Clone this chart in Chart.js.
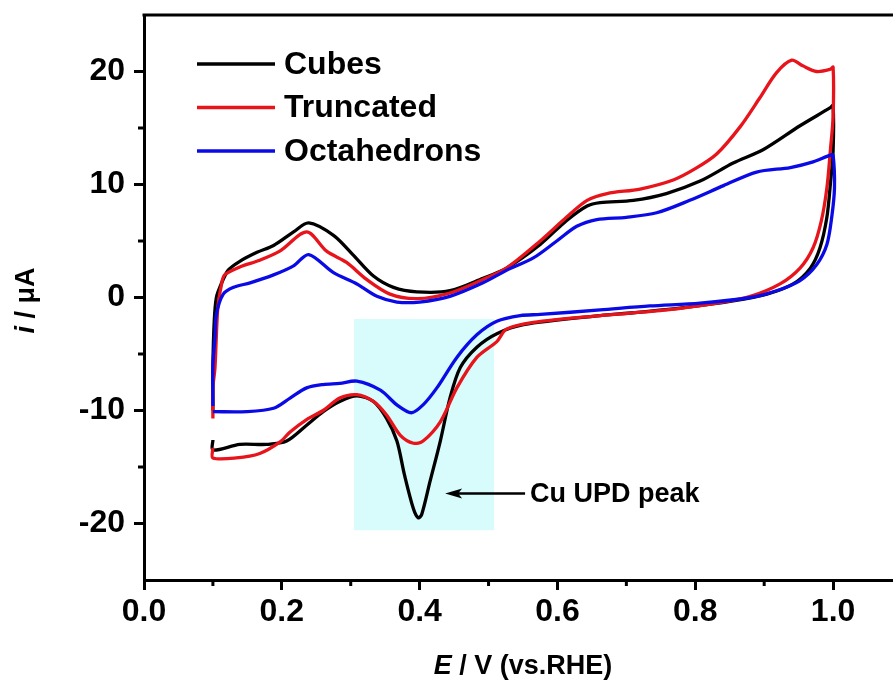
<!DOCTYPE html>
<html>
<head>
<meta charset="utf-8">
<script src="https://cdn.jsdelivr.net/npm/chart.js@4.4.1/dist/chart.umd.min.js"></script>
<style>
  html, body { margin: 0; padding: 0; background: #fff; overflow: hidden; }
  #wrap { width: 910px; height: 686px; }
</style>
</head>
<body>
<div id="wrap"><canvas id="cv"></canvas></div>
<script>
// axis ticks
const xTicks = [0, 0.2, 0.4, 0.6, 0.8, 1.0];
const xMinorTicks = [0.1, 0.3, 0.5, 0.7, 0.9];
const yTicks = [-20, -10, 0, 10, 20];
const yMinorTicks = [-15, -5, 5, 15];

const seriesNames = ['Cubes', 'Truncated', 'Octahedrons'];

// CV loops: anodic sweep 0.1 -> 1.0 V, then cathodic sweep back to 0.1 V
const cubesE = [0.100, 0.100, 0.102, 0.105, 0.110, 0.122, 0.139, 0.164, 0.188, 0.217, 0.239, 0.275, 0.303, 0.333, 0.362, 0.396, 0.444, 0.492, 0.526, 0.575, 0.613, 0.643, 0.662, 0.710, 0.758, 0.807, 0.855, 0.899, 0.952, 0.996, 1.000,
  1.000, 0.996, 0.991, 0.981, 0.967, 0.942, 0.904, 0.855, 0.783, 0.710, 0.662, 0.551, 0.512, 0.483, 0.459, 0.444, 0.430, 0.415, 0.403, 0.398, 0.391, 0.378, 0.367, 0.352, 0.333, 0.309, 0.284, 0.260, 0.236, 0.207, 0.178, 0.139, 0.100, 0.100];
const cubesI = [-10.0, -6.0, -2.0, 0.0, 0.9, 2.4, 3.2, 4.0, 4.6, 5.8, 6.6, 5.5, 3.8, 1.9, 0.9, 0.5, 0.6, 1.7, 2.6, 4.7, 6.8, 8.1, 8.4, 8.6, 9.2, 10.3, 11.9, 13.1, 15.2, 16.8, 17.0,
  13.0, 10.0, 7.1, 4.4, 2.6, 1.2, 0.3, -0.3, -0.9, -1.35, -1.6, -2.4, -3.2, -4.4, -6.2, -8.9, -12.7, -16.3, -19.2, -19.5, -18.7, -15.7, -12.7, -10.7, -9.2, -8.7, -9.2, -10.1, -11.3, -12.7, -13.0, -13.0, -13.5, -12.6];

const truncE = [0.100, 0.100, 0.103, 0.107, 0.112, 0.117, 0.139, 0.168, 0.197, 0.236, 0.265, 0.294, 0.323, 0.357, 0.396, 0.444, 0.492, 0.526, 0.575, 0.613, 0.643, 0.672, 0.720, 0.768, 0.800, 0.831, 0.865, 0.894, 0.918, 0.940, 0.956, 0.976, 0.996, 1.000,
  1.000, 0.996, 0.991, 0.983, 0.971, 0.952, 0.923, 0.880, 0.831, 0.759, 0.662, 0.565, 0.526, 0.512, 0.483, 0.454, 0.430, 0.405, 0.391, 0.372, 0.352, 0.333, 0.309, 0.284, 0.260, 0.236, 0.212, 0.197, 0.168, 0.134, 0.100, 0.100];
const truncI = [-10.7, -8.0, -6.2, -1.0, 1.0, 2.0, 2.7, 3.3, 4.1, 5.8, 4.1, 3.1, 1.6, 0.3, -0.1, 0.4, 1.6, 2.6, 5.0, 7.1, 8.6, 9.2, 9.6, 10.4, 11.4, 12.7, 15.1, 17.7, 19.9, 21.0, 20.5, 20.0, 20.2, 20.4,
  16.0, 13.0, 9.7, 6.8, 4.4, 2.6, 1.2, 0.1, -0.5, -1.1, -1.6, -2.2, -2.8, -3.9, -5.3, -8.0, -11.0, -12.7, -12.9, -12.2, -10.4, -9.2, -8.6, -8.9, -10.0, -10.8, -11.9, -12.8, -13.8, -14.2, -14.2, -13.3];

const octaE = [0.100, 0.100, 0.103, 0.105, 0.115, 0.130, 0.154, 0.188, 0.217, 0.239, 0.275, 0.309, 0.338, 0.367, 0.400, 0.444, 0.492, 0.526, 0.565, 0.599, 0.628, 0.657, 0.700, 0.744, 0.792, 0.841, 0.889, 0.938, 0.971, 0.996, 1.000,
  1.002, 0.998, 0.991, 0.976, 0.952, 0.918, 0.880, 0.807, 0.734, 0.662, 0.575, 0.546, 0.512, 0.483, 0.454, 0.425, 0.405, 0.388, 0.367, 0.343, 0.309, 0.284, 0.260, 0.236, 0.212, 0.188, 0.149, 0.100];
const octaI = [-9.6, -6.0, -3.5, -1.5, 0.3, 0.9, 1.3, 2.0, 2.8, 3.8, 2.2, 1.2, 0.1, -0.4, -0.4, 0.1, 1.3, 2.4, 3.5, 5.0, 6.3, 6.9, 7.1, 7.5, 8.6, 9.9, 11.1, 11.5, 12.0, 12.6, 12.6,
  9.7, 7.1, 4.7, 2.9, 1.5, 0.6, 0.0, -0.5, -0.75, -1.1, -1.5, -1.6, -2.1, -3.3, -5.3, -8.0, -9.5, -10.2, -9.5, -8.2, -7.4, -7.6, -7.7, -8.0, -8.9, -9.8, -10.1, -10.1];

// shaded Cu UPD region and its label
const updBoxE = [0.305, 0.508];
const updBoxI = [-1.9, -20.6];
const updArrowE = [0.553, 0.437];
const updArrowI = -17.35;
const updLabel = 'Cu UPD peak';

const FONT = "'Liberation Sans', Arial, sans-serif";

function toPoints(xs, ys) {
  return xs.map((x, i) => ({ x: x, y: ys[i] }));
}

function drawRich(ctx, parts, cx, cy) {
  let total = 0;
  parts.forEach(p => { ctx.font = p.font; total += ctx.measureText(p.text).width; });
  let x = cx - total / 2;
  ctx.textAlign = 'left';
  ctx.textBaseline = 'middle';
  parts.forEach(p => {
    ctx.font = p.font;
    ctx.fillText(p.text, x, cy);
    x += ctx.measureText(p.text).width;
  });
}

const decorPlugin = {
  id: 'decor',
  beforeDatasetsDraw(chart) {
    const { ctx, scales: { x, y } } = chart;
    const x0 = x.getPixelForValue(updBoxE[0]), x1 = x.getPixelForValue(updBoxE[1]);
    const y0 = y.getPixelForValue(updBoxI[0]), y1 = y.getPixelForValue(updBoxI[1]);
    ctx.save();
    ctx.fillStyle = '#d8fbfb';
    ctx.fillRect(x0, y0, x1 - x0, y1 - y0);
    ctx.restore();
  },
  afterDraw(chart) {
    const { ctx, chartArea: a, scales: { x, y } } = chart;
    ctx.save();
    ctx.strokeStyle = '#000';
    ctx.fillStyle = '#000';

    // top frame line
    ctx.lineWidth = 3;
    ctx.beginPath();
    ctx.moveTo(a.left - 1.5, a.top);
    ctx.lineTo(chart.width, a.top);
    ctx.stroke();

    // minor ticks
    ctx.lineWidth = 3;
    xMinorTicks.forEach(v => {
      const px = x.getPixelForValue(v);
      ctx.beginPath();
      ctx.moveTo(px, a.bottom);
      ctx.lineTo(px, a.bottom + 6);
      ctx.stroke();
    });
    yMinorTicks.forEach(v => {
      const py = y.getPixelForValue(v);
      ctx.beginPath();
      ctx.moveTo(a.left, py);
      ctx.lineTo(a.left - 6, py);
      ctx.stroke();
    });

    // legend
    chart.data.datasets.forEach((ds, i) => {
      const ly = 64 + i * 43.5;
      ctx.strokeStyle = ds.borderColor;
      ctx.lineWidth = 3.5;
      ctx.beginPath();
      ctx.moveTo(197, ly);
      ctx.lineTo(275, ly);
      ctx.stroke();
      ctx.fillStyle = '#000';
      ctx.font = 'bold 32px ' + FONT;
      ctx.textAlign = 'left';
      ctx.textBaseline = 'middle';
      ctx.fillText(ds.label, 284, ly + 1);
    });

    // annotation arrow + label
    const ay = y.getPixelForValue(updArrowI);
    const tail = x.getPixelForValue(updArrowE[0]);
    const tip = x.getPixelForValue(updArrowE[1]);
    ctx.strokeStyle = '#000';
    ctx.lineWidth = 2.5;
    ctx.beginPath();
    ctx.moveTo(tail, ay);
    ctx.lineTo(tip + 10, ay);
    ctx.stroke();
    ctx.beginPath();
    ctx.moveTo(tip, ay);
    ctx.lineTo(tip + 17, ay - 5);
    ctx.lineTo(tip + 13, ay);
    ctx.lineTo(tip + 17, ay + 5);
    ctx.closePath();
    ctx.fill();
    ctx.font = 'bold 27px ' + FONT;
    ctx.textAlign = 'left';
    ctx.textBaseline = 'middle';
    ctx.fillText(updLabel, tail + 5, ay + 1);

    // axis titles
    drawRich(ctx, [
      { text: 'E', font: 'italic bold 27px ' + FONT },
      { text: ' / V (vs.RHE)', font: 'bold 27px ' + FONT }
    ], (a.left + a.right) / 2, 667);

    ctx.translate(27, (a.top + a.bottom) / 2 + 3);
    ctx.rotate(-Math.PI / 2);
    drawRich(ctx, [
      { text: 'i', font: 'italic bold 27px ' + FONT },
      { text: ' / \u03bcA', font: 'bold 27px ' + FONT }
    ], 0, 0);
    ctx.restore();
  }
};

const tickFont = { family: FONT, size: 32, weight: 'bold' };

new Chart(document.getElementById('cv'), {
  type: 'scatter',
  data: {
    datasets: [
      { label: seriesNames[0], data: toPoints(cubesE, cubesI), borderColor: '#000000', order: 2 },
      { label: seriesNames[1], data: toPoints(truncE, truncI), borderColor: '#e8141b', order: 1 },
      { label: seriesNames[2], data: toPoints(octaE, octaI), borderColor: '#0a0ae6', order: 0 }
    ].map(ds => Object.assign(ds, { showLine: true, borderWidth: 3.3, pointRadius: 0, tension: 0.3, fill: false }))
  },
  options: {
    responsive: true,
    maintainAspectRatio: false,
    animation: false,
    layout: { padding: { left: 0, top: 15, right: 8, bottom: 0 } },
    plugins: { legend: { display: false }, tooltip: { enabled: false } },
    scales: {
      x: {
        type: 'linear', min: 0, max: 1.1,
        border: { display: true, width: 3, color: '#000' },
        grid: { drawOnChartArea: false, tickLength: 10, tickWidth: 3, tickColor: '#000' },
        ticks: { color: '#000', font: tickFont, padding: 3, maxRotation: 0, callback: v => v.toFixed(1) },
        afterBuildTicks: s => { s.ticks = xTicks.map(v => ({ value: v })); },
        afterFit: s => { s.height = 106; s.paddingLeft = 0; s.paddingRight = 0; }
      },
      y: {
        type: 'linear', min: -25, max: 25,
        border: { display: true, width: 3, color: '#000' },
        grid: { drawOnChartArea: false, tickLength: 10, tickWidth: 3, tickColor: '#000' },
        ticks: { color: '#000', font: tickFont, padding: 9, callback: v => String(v) },
        afterBuildTicks: s => { s.ticks = yTicks.map(v => ({ value: v })); },
        afterFit: s => { s.width = 144; s.paddingTop = 0; s.paddingBottom = 0; }
      }
    }
  },
  plugins: [decorPlugin]
});
</script>
</body>
</html>
